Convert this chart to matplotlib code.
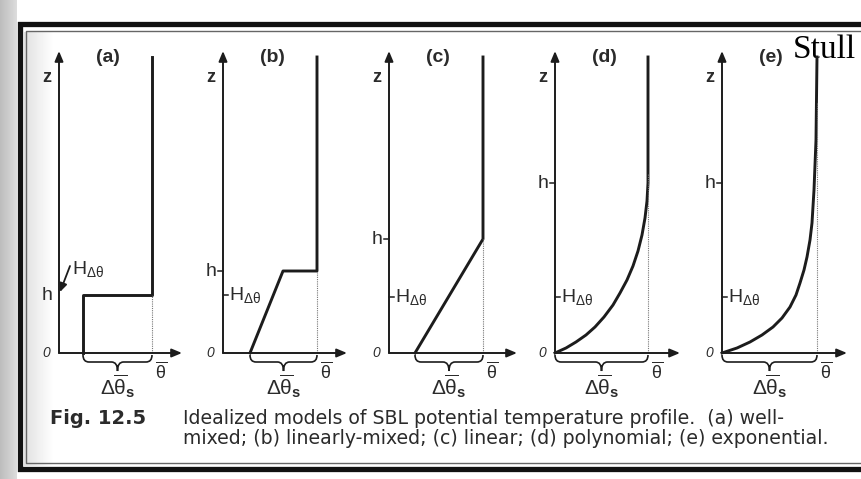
import numpy as np
import matplotlib
matplotlib.use("Agg")
import matplotlib.pyplot as plt
from matplotlib.path import Path
from matplotlib.patches import PathPatch

plt.rcParams['font.family'] = ['Liberation Sans', 'DejaVu Sans']
plt.rcParams['mathtext.fontset'] = 'custom'
plt.rcParams['mathtext.rm'] = 'Liberation Sans'
plt.rcParams['mathtext.it'] = 'Liberation Sans'
plt.rcParams['mathtext.bf'] = 'Liberation Sans:bold'

# ---- data (theta in arbitrary units, z in arbitrary units) ----
panel_names = ['(a)', '(b)', '(c)', '(d)', '(e)']
theta_top = [9.3, 9.4, 9.4, 9.3, 9.5]      # mixed/residual layer theta
theta_sfc = [2.4, 2.7, 2.6, 0.0, 0.0]      # surface theta
h_vals = [5.8, 8.2, 11.4, 17.0, 17.0]      # SBL depth h
h_dtheta = [5.8, 5.8, 5.6, 5.6, 5.6]       # H_dtheta
dotted_top = [5.8, 8.2, 11.4, 18.0, 25.0]

prof_a_theta = [9.3, 9.3, 2.4, 2.4]
prof_a_z = [29.6, 5.8, 5.8, 0.0]
prof_b_theta = [9.4, 9.4, 6.0, 2.7]
prof_b_z = [29.6, 8.2, 8.2, 0.0]
prof_c_theta = [9.4, 9.4, 2.6]
prof_c_z = [29.6, 11.4, 0.0]
prof_d_theta = [0.0, 1.1, 2.1, 3.1, 4.0, 4.9, 5.8, 6.5, 7.2, 7.8, 8.3, 8.7, 9.0, 9.2, 9.3, 9.3]
prof_d_z = [0.0, 0.5, 1.1, 1.8, 2.6, 3.6, 4.8, 6.0, 7.3, 8.7, 10.2, 11.8, 13.5, 15.2, 17.0, 29.6]
prof_e_theta = [0.0, 1.5, 2.8, 4.0, 5.1, 6.0, 6.8, 7.4, 7.8, 8.2, 8.5, 8.8, 9.0, 9.2, 9.4, 9.5]
prof_e_z = [0.0, 0.5, 1.1, 1.8, 2.6, 3.5, 4.6, 5.8, 7.0, 8.3, 9.6, 11.3, 13.0, 16.3, 21.3, 29.6]

profiles = [(prof_a_theta, prof_a_z), (prof_b_theta, prof_b_z), (prof_c_theta, prof_c_z),
            (prof_d_theta, prof_d_z), (prof_e_theta, prof_e_z)]

# layout (pixels)
W, H = 862, 479
axis_x = [59, 223, 389, 555, 722]
origin_y = 353
axis_len = [12.3, 12.4, 12.8, 12.5, 12.5]
ink = '#1c1c1c'
txt = '#2b2b2b'

fig = plt.figure(figsize=(W / 100, H / 100), dpi=100)
fig.patch.set_facecolor('white')

bg = fig.add_axes([0, 0, 1, 1])
bg.axis('off')

# scan shading on the left
grad = np.linspace(0.74, 0.86, 17)[None, :]
bg.imshow(np.repeat(grad, 2, axis=0), extent=[0, 17, H, 0], cmap='gray', vmin=0, vmax=1, aspect='auto')
grad2 = np.linspace(0.88, 1.0, 30)[None, :]
bg.imshow(np.repeat(grad2, 2, axis=0), extent=[24, 54, 466, 32], cmap='gray', vmin=0, vmax=1, aspect='auto')
bg.set_xlim(0, W)
bg.set_ylim(H, 0)

# frame
bg.plot([880, 20, 20, 880], [24, 24, 469, 469], color='#111111', lw=3.8, solid_joinstyle='miter')
bg.plot([880, 26, 26, 880], [31, 31, 463, 463], color='#666666', lw=1.0)

# caption
cap_font = ['DejaVu Sans']
bg.text(50, 419, 'Fig. 12.5', fontsize=14, fontweight='bold', family=cap_font, color=txt,
        va='center', ha='left')
bg.text(183, 418, 'Idealized models of SBL potential temperature profile.  (a) well-',
        fontsize=13.6, family=cap_font, color=txt, va='center', ha='left')
bg.text(183, 439, 'mixed; (b) linearly-mixed; (c) linear; (d) polynomial; (e) exponential.',
        fontsize=13.6, family=cap_font, color=txt, va='center', ha='left')

bg.text(793, 58, 'Stull', fontsize=24, family='Liberation Serif', color='black', va='baseline', ha='left')


def brace(ax, x0, x1, y):
    xm = 0.5 * (x0 + x1)
    verts = [(x0, y), (x0, y - 0.7), (x0 + 0.6, y - 0.7),
             (xm - 0.6, y - 0.7), (xm, y - 0.7), (xm, y - 1.6),
             (xm, y - 0.7), (xm + 0.6, y - 0.7),
             (x1 - 0.6, y - 0.7), (x1, y - 0.7), (x1, y)]
    codes = [Path.MOVETO, Path.CURVE3, Path.CURVE3,
             Path.LINETO, Path.CURVE3, Path.CURVE3,
             Path.CURVE3, Path.CURVE3,
             Path.LINETO, Path.CURVE3, Path.CURVE3]
    ax.add_patch(PathPatch(Path(verts, codes), fill=False, lw=1.2, color=ink, clip_on=False))


for i in range(5):
    ax = fig.add_axes([axis_x[i] / W, (H - origin_y) / H, 130 / W, 300 / H])
    ax.set_xlim(0, 13)
    ax.set_ylim(0, 30)
    ax.axis('off')
    arrow = dict(arrowstyle='-|>,head_width=0.25,head_length=0.6', lw=1.4, color=ink,
                 shrinkA=0, shrinkB=0)
    ax.annotate('', xy=(0, 30.2), xytext=(0, 0), arrowprops=arrow, annotation_clip=False)
    ax.annotate('', xy=(axis_len[i], 0), xytext=(0, 0), arrowprops=arrow, annotation_clip=False)

    th, zz = profiles[i]
    ax.plot(th, zz, color=ink, lw=2.1, clip_on=False, solid_joinstyle='round')
    ax.plot([theta_top[i], theta_top[i]], [0, dotted_top[i]], color='#777777', lw=0.8,
            ls=(0, (1, 1)), clip_on=False)

    brace(ax, theta_sfc[i], theta_top[i], -0.2)
    ax.text(0.5 * (theta_sfc[i] + theta_top[i]), -3.3, r'$\Delta\overline{\theta}_\mathbf{s}$',
            fontsize=15, color=txt, ha='center', va='center')
    ax.text(theta_top[i] + 0.9, -1.9, r'$\overline{\theta}$', fontsize=13, color=txt,
            ha='center', va='center')

    ax.text(-1.3, 0, '0', fontsize=10, style='italic', color=txt, ha='center', va='center')
    ax.text(-1.2, 27.5, 'z', fontsize=13, fontweight='bold', color=txt, ha='center', va='center')
    ax.text(4.9, 29.5, panel_names[i], fontsize=14, fontweight='bold', color=txt,
            ha='center', va='center')

    ax.text(-1.2, h_vals[i], 'h', fontsize=14, color=txt, ha='center', va='center')
    if i == 0:
        ax.text(1.3, 8.4, r'H$_{\Delta\theta}$', fontsize=14, color=txt, ha='left', va='center')
        ax.annotate('', xy=(0.1, 6.1), xytext=(1.1, 8.7),
                    arrowprops=dict(arrowstyle='-|>,head_width=0.22,head_length=0.5', lw=1.3,
                                    color=ink, shrinkA=0, shrinkB=0), annotation_clip=False)
    else:
        ax.plot([-0.5, 0], [h_vals[i], h_vals[i]], color=ink, lw=1.1, clip_on=False)
        ax.plot([0, 0.5], [h_dtheta[i], h_dtheta[i]], color=ink, lw=1.1, clip_on=False)
        ax.text(0.6, h_dtheta[i], r'H$_{\Delta\theta}$', fontsize=14, color=txt, ha='left', va='center')

fig.savefig('out.png', dpi=100)
